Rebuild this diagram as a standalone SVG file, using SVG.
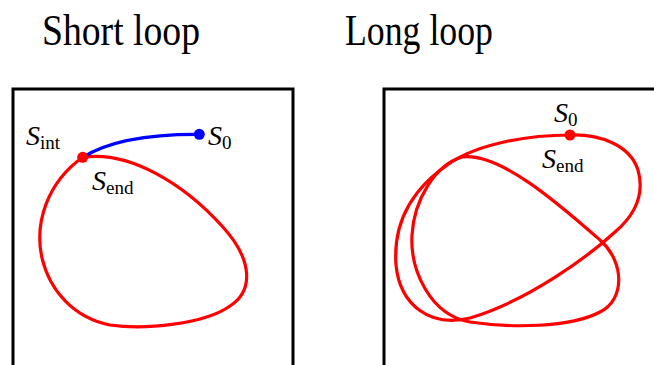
<svg xmlns="http://www.w3.org/2000/svg" width="654" height="365" viewBox="0 0 654 365">
<style>
.title{font-family:"Liberation Serif","DejaVu Serif",serif;font-size:44px;fill:#000}
.lab{font-family:"Liberation Serif","DejaVu Serif",serif;font-size:28px;fill:#000}
.sub{font-size:19px;font-style:normal}
.it{font-style:italic}
.frame{fill:none;stroke:#000;stroke-width:3}
.red{fill:none;stroke:#ff0000;stroke-width:3.2;stroke-linejoin:round}
.blue{fill:none;stroke:#0000ff;stroke-width:3.2;stroke-linecap:round}
</style>
<rect width="654" height="365" fill="#fff"/>
<text class="title" x="42" y="45" textLength="158" lengthAdjust="spacingAndGlyphs">Short loop</text>
<text class="title" x="345" y="45" textLength="148" lengthAdjust="spacingAndGlyphs">Long loop</text>

<g id="short-loop">
<rect class="frame" x="13" y="89" width="280" height="290"/>
<path class="red" d="M82.7,157.3 C130,150 185,185 222,226 C255,262 252,292 230,306 C205,324 145,330 110,325 C75,318 50,292 42,258 C34,222 48,182 82.7,157.3 Z"/>
<path class="blue" d="M82.7,157.3 C110,140 150,134 199.3,134.3"/>
<circle cx="82.7" cy="157.3" r="5.5" fill="#ff0000"/>
<circle cx="199.3" cy="134.3" r="5.5" fill="#0000ff"/>
<text class="lab" x="26" y="145"><tspan class="it">S</tspan><tspan class="sub" dy="4">int</tspan></text>
<text class="lab" x="208" y="145"><tspan class="it">S</tspan><tspan class="sub" dy="4">0</tspan></text>
<text class="lab" x="92" y="190"><tspan class="it">S</tspan><tspan class="sub" dy="4">end</tspan></text>
</g>

<g id="long-loop">
<rect class="frame" x="384" y="89" width="290" height="290"/>
<path class="red" d="M570,135 C600,134 630,145 638,170 C645,195 635,215 615,232 C590,255 530,300 470,318 C430,328 400,305 396,265 C393,225 410,190 450,163 C480,143 530,135 570,135 Z"/>
<path class="red" d="M462,157 C500,152 560,205 600,240 C625,262 625,300 600,312 C570,328 510,328 470,322 C430,315 410,270 412,235 C414,200 435,165 462,157 Z"/>
<circle cx="570" cy="135" r="5.5" fill="#ff0000"/>
<text class="lab" x="554" y="122"><tspan class="it">S</tspan><tspan class="sub" dy="4">0</tspan></text>
<text class="lab" x="542" y="168"><tspan class="it">S</tspan><tspan class="sub" dy="4">end</tspan></text>
</g>
</svg>
